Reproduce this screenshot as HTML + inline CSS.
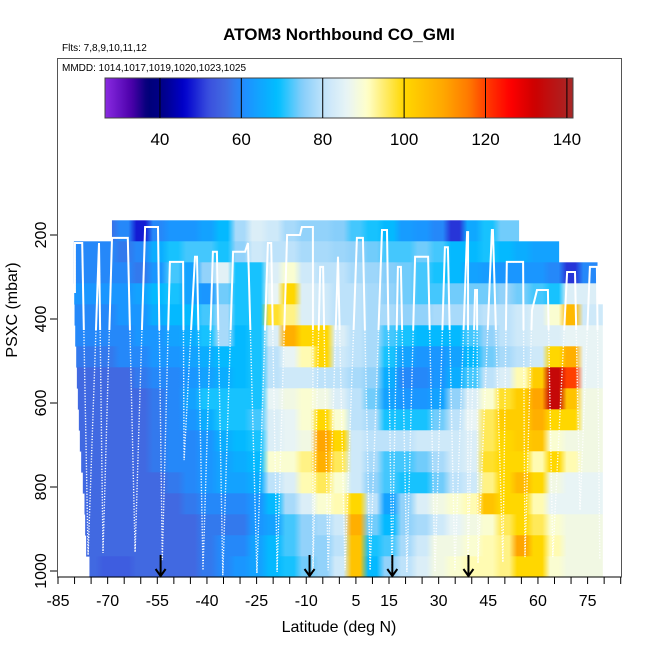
<!DOCTYPE html>
<html><head><meta charset="utf-8"><style>
html,body{margin:0;padding:0;background:#fff}
svg{display:block;font-family:"Liberation Sans",sans-serif}
</style></head><body>
<svg id="chart" width="650" height="650" viewBox="0 0 650 650" xmlns="http://www.w3.org/2000/svg">
<defs id="defs">
<linearGradient id="cbgrad" x1="0" x2="1" y1="0" y2="0"></linearGradient>
<clipPath id="topclip"><rect x="0" y="0" width="650" height="330"/></clipPath>
</defs>
<text x="339" y="40" text-anchor="middle" font-size="17" font-weight="bold">ATOM3 Northbound CO_GMI</text>
<text x="62" y="51" font-size="10">Flts: 7,8,9,10,11,12</text>
<rect x="57.5" y="58.5" width="564" height="518.5" fill="none" stroke="#555" stroke-width="1"/>
<text x="62" y="71" font-size="10">MMDD: 1014,1017,1019,1020,1023,1025</text>
<g id="heat"></g>
<g id="profiles"></g>
<g id="colorbar"></g>
<g id="xaxis"></g>
<g id="yaxis"></g>
<g id="arrows"></g>
<text x="339" y="632" text-anchor="middle" font-size="16">Latitude (deg N)</text>
<text transform="translate(17,310) rotate(-90)" text-anchor="middle" font-size="16">PSXC (mbar)</text>
</svg>
<script>
const colLats = [-80,-75,-70,-65,-60,-55,-50,-45,-40,-35,-30,-25,-20,-15,-10,-5,0,5,10,15,20,25,30,35,40,45,50,55,60,65,70,75];
const rowPressures = [190,240,290,340,390,440,490,540,590,640,690,740,790,840,890,940,990];
const rowStartLat = [-68.7,-80.2,-80.2,-80.1,-80,-79.8,-79.5,-79.3,-79,-78.7,-78.4,-78,-77.5,-77,-76.8,-76.5,-75.5];
const rowEndLat = [54.3,66.4,78,78,79.6,79.6,79.6,79.6,79.6,79.6,79.6,79.6,79.6,79.6,79.6,79.6,79.6];
const coValues = [
[null,null,57,60,48,60,62,62,64,68,78,84,82,78,76,76,75,72,70,68,63,62,60,50,65,70,74,null,null,null,null,null],
[60,60,60,58,60,66,70,72,72,70,76,82,80,80,78,78,77,76,74,72,72,74,72,68,68,70,68,66,64,null,null,null],
[60,60,60,60,58,62,72,64,76,85,70,70,84,90,82,80,80,78,77,75,74,72,70,68,64,63,62,62,62,60,50,60],
[62,62,62,62,64,68,70,64,62,74,70,70,86,100,84,82,80,80,78,76,74,72,72,74,74,74,76,74,72,70,84,84],
[60,60,60,62,62,66,68,68,72,78,70,70,98,94,84,82,80,80,78,78,76,76,78,78,78,80,80,82,84,90,106,82],
[60,60,60,60,62,62,64,66,70,78,68,70,84,108,100,100,84,80,78,72,70,68,68,68,72,76,80,82,84,84,86,86],
[58,58,58,60,60,62,62,64,66,68,68,70,80,86,92,100,82,80,78,70,64,62,62,64,68,74,78,80,82,100,108,86],
[56,56,56,56,58,60,60,62,64,66,68,70,80,82,82,80,80,78,76,66,60,60,62,66,72,80,84,92,102,134,120,86],
[56,56,56,56,56,58,60,64,70,70,70,70,86,88,90,88,84,80,74,64,62,62,64,76,84,90,98,102,110,134,104,88],
[56,56,56,56,56,58,60,62,66,70,70,72,84,86,90,100,90,80,78,70,70,70,74,80,86,96,102,102,108,100,100,88],
[56,56,56,56,56,58,60,60,62,66,68,70,84,86,88,110,100,82,80,80,80,82,82,82,84,96,100,102,104,90,88,88],
[56,56,56,56,56,58,60,60,62,64,66,68,90,90,94,108,96,82,78,72,72,74,78,82,84,98,100,100,92,100,92,88],
[56,56,56,56,56,56,58,60,62,64,64,66,80,84,92,96,90,82,76,72,70,70,74,80,82,94,100,106,100,88,86,86],
[56,56,56,56,56,56,56,58,60,60,60,62,68,78,84,90,92,100,80,64,76,84,88,90,92,104,100,100,92,86,86,86],
[56,56,56,56,56,56,56,56,58,58,58,62,64,72,76,78,82,108,74,68,76,78,82,86,88,90,96,100,96,90,88,88],
[56,56,56,56,56,56,56,56,58,60,60,64,68,72,76,76,80,104,70,72,78,82,88,88,90,92,94,110,100,92,88,88],
[null,56,54,54,56,56,56,56,58,60,62,64,68,70,74,76,82,104,68,76,80,84,88,90,92,92,94,100,100,90,88,88]
];
const profileLats = [-79.9,-79.9,-77.7,-75.9,-72.6,-71.4,-68.7,-63.9,-61.7,-58.7,-54.8,-53.5,-51.2,-47.2,-46.9,-43.6,-43,-41.2,-38.2,-37,-35.2,-32.1,-28.5,-27.6,-24.9,-21.6,-20.6,-18.8,-15.8,-11.9,-11.3,-8,-8,-5.8,-4.9,-3.4,-0.4,1.7,5.3,7.1,9.3,12.9,14.4,15.9,17.7,18.6,20.4,22.9,26.8,28.9,31.9,32.8,34.9,38.6,38.9,38.8,41,41.6,41.9,46.1,46.4,49.4,50.6,55.5,56.1,58.2,59.7,63,64.5,68.8,71.2,72.7,75.7,77.8,78.7];
const profilePress = [338,219,219,962,219,957,207,207,955,181,181,974,264,264,736,252,252,998,240,240,1010,240,240,219,1005,219,219,1002,200,200,181,181,1005,276,276,998,252,998,207,207,998,188,188,1005,276,276,1002,252,252,1002,229,229,998,193,193,1005,331,331,981,188,188,979,264,264,967,379,331,331,967,288,288,855,276,276,974];
const arrowLats = [-54,-9,16,39];
const xTickLabels = [-85,-70,-55,-40,-25,-10,5,15,30,45,60,75];
const yTickLabels = [200,400,600,800,1000];
const cbTicks = [40,60,80,100,120,140];

const NS = "http://www.w3.org/2000/svg";
function xs(lat){ return 58 + (lat + 85) * 3.31; }
function ys(p){ return 571 - (1000 - p) * 0.42; }
function cbx(v){ return 105 + (v - 26.5) * (468 / 115); }
const cstops = [[26.5,[138,43,226]],[33,[75,0,170]],[37,[0,0,120]],[41,[0,0,139]],[46,[0,0,205]],[52,[58,80,222]],[56,[65,105,225]],[61,[30,144,255]],[69,[0,191,255]],[75,[135,206,250]],[81,[200,230,250]],[86,[232,244,245]],[91,[255,255,200]],[100,[255,215,0]],[110,[255,165,0]],[116,[255,120,0]],[121,[255,50,0]],[126,[255,0,0]],[132,[205,0,0]],[142,[165,42,42]]];
function col(v){
  if(v<=cstops[0][0]) return rgb(cstops[0][1]);
  for(let i=1;i<cstops.length;i++){
    if(v<=cstops[i][0]){
      const a=cstops[i-1],b=cstops[i],t=(v-a[0])/(b[0]-a[0]);
      return rgb(a[1].map((c,k)=>c+(b[1][k]-c)*t));
    }
  }
  return rgb(cstops[cstops.length-1][1]);
}
function rgb(a){ return "rgb("+a.map(x=>Math.round(x)).join(",")+")"; }
function mk(tag, attrs, parent){
  const e=document.createElementNS(NS,tag);
  for(const k in attrs) e.setAttribute(k,attrs[k]);
  parent.appendChild(e); return e;
}

// heatmap: one rect per row, gradient stops from the data
const defs=document.getElementById("defs");
const heat=document.getElementById("heat");
const gx0=xs(-85), gx1=xs(85);
rowPressures.forEach((p,r)=>{
  const y0=ys(p-25), y1=ys(p+25);
  const g=mk("linearGradient",{id:"rowg"+r,gradientUnits:"userSpaceOnUse",x1:gx0,x2:gx1,y1:0,y2:0},defs);
  colLats.forEach((lat,c)=>{
    const v=coValues[r][c];
    if(v===null) return;
    mk("stop",{offset:((lat-1.3+85)/170).toFixed(4),"stop-color":col(v)},g);
    mk("stop",{offset:((lat+1.3+85)/170).toFixed(4),"stop-color":col(v)},g);
  });
  const l0=rowStartLat[r], l1=rowEndLat[r];
  const rc=mk("rect",{x:xs(l0),y:y0,width:xs(l1)-xs(l0),height:y1-y0+0.3,fill:"url(#rowg"+r+")"},heat);
  
  
});

// profiles
const prof=document.getElementById("profiles");
const pts=profileLats.map((l,i)=>xs(l).toFixed(1)+","+ys(profilePress[i]).toFixed(1)).join(" ");
const dl=mk("polyline",{points:pts,fill:"none",stroke:"#fff","stroke-width":1.4,"stroke-dasharray":"1.2 1.6"},prof);


const sl=mk("polyline",{points:pts,fill:"none",stroke:"#fff","stroke-width":2,"clip-path":"url(#topclip)"},prof);



// colorbar
const grad=document.getElementById("cbgrad");
for(let v=26.5; v<=141.6; v+=1){
  mk("stop",{offset:((v-26.5)/115).toFixed(4),"stop-color":col(v)},grad);
}
const cb=document.getElementById("colorbar");
const cbr=mk("rect",{x:105,y:78,width:468,height:40,fill:"url(#cbgrad)",stroke:"#444","stroke-width":1},cb);


cbTicks.forEach(v=>{
  const ln=mk("line",{x1:cbx(v),x2:cbx(v),y1:78,y2:118,stroke:"#000","stroke-width":1},cb);
  
  
  const t=mk("text",{x:cbx(v),y:145,"text-anchor":"middle","font-size":17},cb);
  t.textContent=v;
  
  
});

// x axis
const xa=document.getElementById("xaxis");
const xl=mk("line",{x1:58,x2:621,y1:577,y2:577,stroke:"#000","stroke-width":1},xa);


for(let lat=-85; lat<=85; lat+=5){
  const tk=mk("line",{x1:xs(lat),x2:xs(lat),y1:577,y2:584,stroke:"#000","stroke-width":1},xa);
  
  
}
xTickLabels.forEach(v=>{
  const t=mk("text",{x:xs(v),y:606,"text-anchor":"middle","font-size":16},xa);
  t.textContent=v;
  
  
});

// y axis
const ya=document.getElementById("yaxis");
yTickLabels.forEach(v=>{
  const tk=mk("line",{x1:50,x2:57,y1:ys(v),y2:ys(v),stroke:"#000","stroke-width":1},ya);
  
  
  const t=mk("text",{transform:"translate(46,"+ys(v)+") rotate(-90)","text-anchor":"middle","font-size":16},ya);
  t.textContent=v;
  
  
});

// arrows
const ar=document.getElementById("arrows");
arrowLats.forEach(l=>{
  const x=xs(l);
  const a=mk("path",{d:"M"+x+",555 L"+x+",576 M"+(x-5)+",569 L"+x+",576 L"+(x+5)+",569",stroke:"#000","stroke-width":2,fill:"none"},ar);
  
  
});
</script>
</body></html>
